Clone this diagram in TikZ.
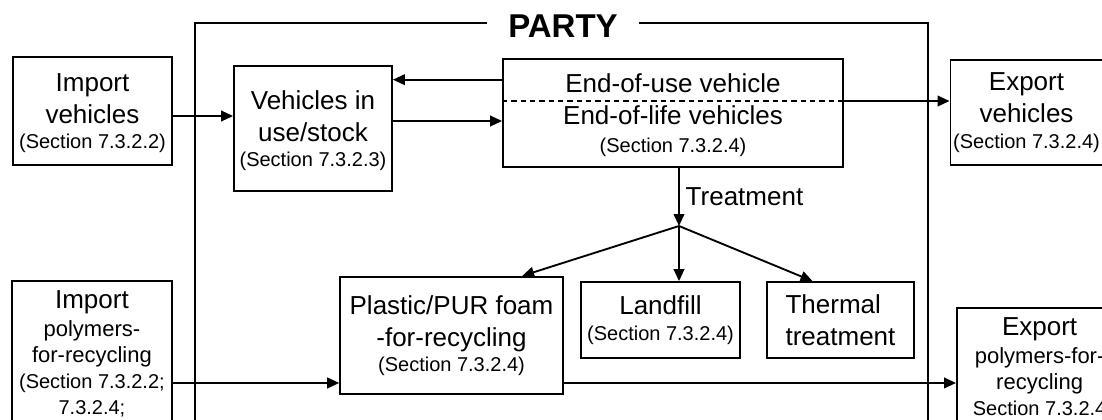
\documentclass[tikz,border=0pt]{standalone}
\usepackage{fontspec}
\setmainfont{Liberation Sans}
\usetikzlibrary{arrows.meta,positioning,calc}

\newcommand\bigtxt{\fontsize{19.5}{24}\selectfont}
\newcommand\mdtxt{\fontsize{16.5}{19.5}\selectfont}
\newcommand\smtxt{\fontsize{15}{18}\selectfont}

\begin{document}
\begin{tikzpicture}[
  x=0.75pt, y=-0.75pt,
  box/.style={draw, line width=1.4pt, align=center, inner sep=2pt, font=\bigtxt},
  arrow/.style={-{Triangle[length=9pt,width=8pt]}, line width=1.4pt}
]
\useasboundingbox (0,0) rectangle (1102,419);
\clip (0,0) rectangle (1102,419);

% party boundary with its title
\draw[line width=1.4pt] (195,23) rectangle (928,480);
\node[fill=white, inner xsep=16pt, font=\fontsize{24.75}{28}\selectfont\bfseries] (party) at (563,26) {PARTY};

% vehicle flows
\node[box, minimum width=119pt, minimum height=81pt, text depth=0pt] (impveh) at (92.5,111) {Import\\vehicles\\[-5pt]\smtxt(Section 7.3.2.2)};
\node[box, minimum width=118.5pt, minimum height=94pt, text depth=0pt] (stock) at (313,128.5) {Vehicles in\\use/stock\\[-5pt]\smtxt(Section 7.3.2.3)};
\node[box, minimum width=255pt, minimum height=81pt, text depth=0pt] (eol) at (673,113) {End-of-use vehicle\\End-of-life vehicles\\[-3pt]\smtxt(Section 7.3.2.4)};
\node[box, minimum width=110pt, minimum height=79pt] (expveh) at (1026.5,112.5) {Export\\vehicles\\[-5pt]\smtxt(Section 7.3.2.4)};

% treatment routes
\node[box, minimum width=167pt, minimum height=88pt] (plastic) at (451.5,335.5) {Plastic/PUR foam\\-for-recycling\\[-5pt]\smtxt(Section 7.3.2.4)};
\node[box, minimum width=119pt, minimum height=57pt] (landfill) at (660.5,320) {Landfill\\[-5pt]\smtxt(Section 7.3.2.4)};
\node[box, minimum width=110pt, minimum height=57pt, align=left] (thermal) at (840.5,320) {Thermal\\treatment};

% polymer trade, boxes run past the lower edge
\node[box, anchor=north west, minimum width=120pt, inner ysep=7pt, text depth=110pt, font=\mdtxt]
  (imppoly) at (11,280) {{\bigtxt Import}\\[2pt]polymers-\\for-recycling\\\smtxt(Section 7.3.2.2;\\\smtxt 7.3.2.4;};
\node[box, anchor=north west, minimum width=124pt, inner ysep=7pt, text depth=110pt, font=\mdtxt]
  (exppoly) at (956,307) {{\bigtxt Export}\\[2pt]polymers-for-\\recycling\\\smtxt Section 7.3.2.4};

\coordinate (split) at (679,226);

\draw[arrow] ([yshift=-3.75pt]impveh.east) -- ([yshift=-3.75pt]impveh.east -| stock.west);
\draw[arrow] ([yshift=25pt]eol.west) -- ([yshift=25pt]eol.west -| stock.east);
\draw[arrow] ([yshift=-6pt]eol.west -| stock.east) -- ([yshift=-6pt]eol.west);
\draw[dashed, line width=1pt, dash pattern=on 4pt off 3pt] ([yshift=9pt]eol.west) -- ([yshift=9pt]eol.east);
\draw[arrow] ([yshift=9pt]eol.east) -- ([yshift=9pt]eol.east -| expveh.west);

\draw[arrow] (eol.south -| split) -- (split) node[midway, right=1pt, font=\bigtxt] {Treatment};
\draw[arrow] (split) -- ([xshift=53pt]plastic.north);
\draw[arrow] (split) -- (split |- landfill.north);
\draw[arrow] (split) -- ([xshift=-21pt]thermal.north);

\draw[arrow] ([yshift=-35.6pt]plastic.west -| imppoly.east) -- ([yshift=-35.6pt]plastic.west);
\draw[arrow] ([yshift=-35.6pt]plastic.east) -- ([yshift=-35.6pt]plastic.east -| exppoly.west);
\end{tikzpicture}
\end{document}
